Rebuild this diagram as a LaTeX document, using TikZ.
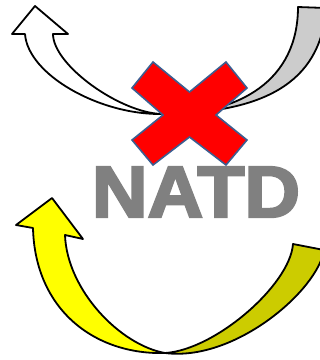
\documentclass[tikz,border=0pt]{standalone}
\usepackage{fontspec}
\newfontfamily\natdfont{Liberation Sans}[BoldFeatures={FakeBold=3.2}]
\definecolor{grayband}{HTML}{CCCCCC}
\definecolor{yel}{HTML}{FFFF00}
\definecolor{darkyel}{HTML}{CCCC00}
\definecolor{xred}{HTML}{FF0000}
\definecolor{xblue}{HTML}{3B5E91}
\definecolor{txtgray}{HTML}{808080}
\begin{document}
\begin{tikzpicture}[x=1pt,y=-1pt,
  outl/.style={draw=black,line width=1.8pt,line join=round},
  crossst/.style={fill=xred,draw=xblue,line width=1.6pt,line join=miter}]
\useasboundingbox (0,0) rectangle (320,360);
\begin{scope}
\clip (0,0) rectangle (320,360);
% top arrow: back (gray) part
\draw[outl,fill=grayband] (162,114) .. controls (240,115) and (298,80) .. (298,7)
  -- (326,8) .. controls (321,85) and (260,113) .. (162,114) -- cycle;
% top arrow: front (white) part
\draw[outl,fill=white] (162,114) .. controls (100,115) and (28,75) .. (25,34)
  -- (12,34) -- (35,6) -- (68,34) -- (53,34)
  .. controls (53,65) and (120,113) .. (162,114) -- cycle;
% bottom arrow: back (dark yellow) part
\draw[outl,fill=darkyel] (165,353) .. controls (215,350) and (290,285) .. (293,244)
  -- (324,250) .. controls (318,290) and (235,362) .. (165,353) -- cycle;
% bottom arrow: front (yellow) part
\draw[outl,fill=yel] (165,353) .. controls (95,355) and (35,310) .. (33,228)
  -- (16,225) -- (52,198) -- (83,239) -- (65,235)
  .. controls (67,290) and (120,345) .. (165,353) -- cycle;
% red cross
\draw[crossst] (153,62) -- (189.5,92) -- (226,62) -- (247,88) -- (216,115)
  -- (247,140) -- (226,165) -- (189.5,137) -- (153,165) -- (132,140)
  -- (163,115) -- (132,88) -- cycle;
% text
\node[inner sep=0pt, text=txtgray] (natd) at (196,192)
  {\resizebox{208pt}{50pt}{\natdfont\bfseries NATD}};
\end{scope}
\end{tikzpicture}
\end{document}
